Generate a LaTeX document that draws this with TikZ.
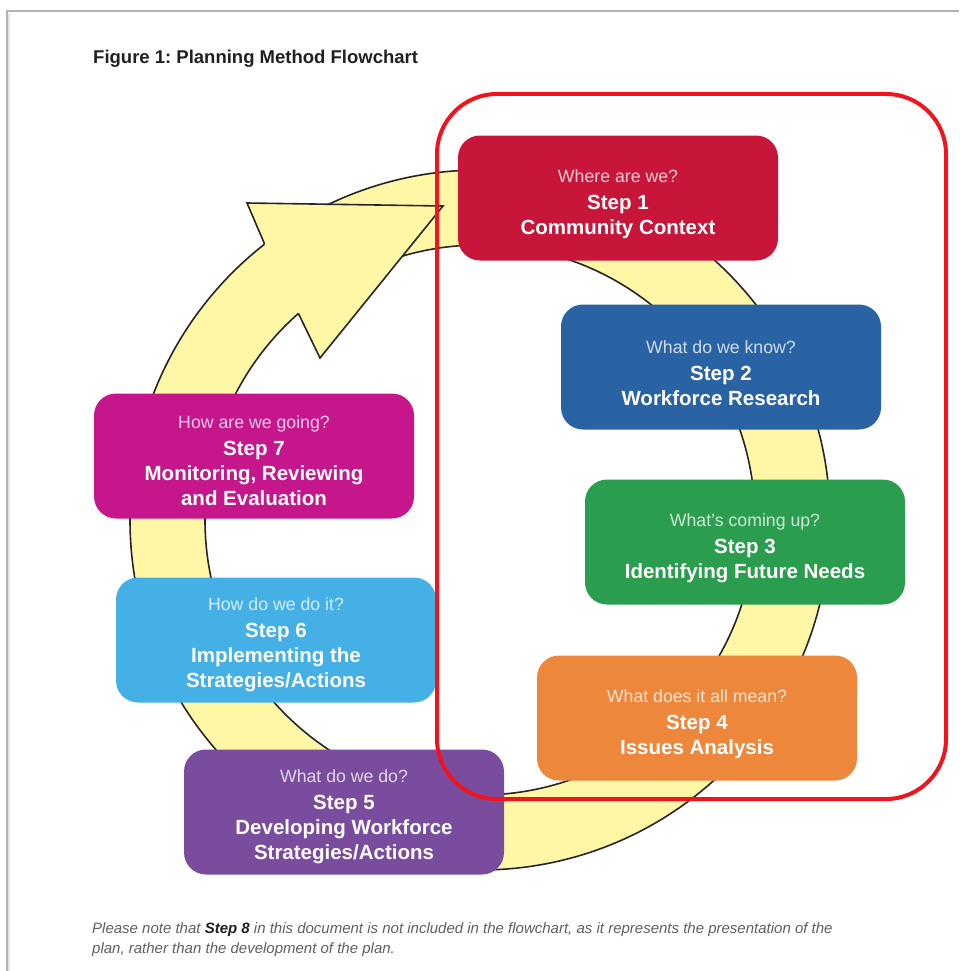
\documentclass[tikz,border=0pt]{standalone}
\usepackage{fontspec}
\setmainfont{Liberation Sans}
\frenchspacing
\definecolor{cOne}{RGB}{200,22,58}
\definecolor{cTwo}{RGB}{42,99,164}
\definecolor{cThree}{RGB}{42,158,78}
\definecolor{cFour}{RGB}{237,135,60}
\definecolor{cFive}{RGB}{122,76,158}
\definecolor{cSix}{RGB}{68,176,230}
\definecolor{cSeven}{RGB}{198,22,140}
\definecolor{ringyellow}{RGB}{255,246,166}
\definecolor{framered}{RGB}{240,20,30}
\definecolor{titlegray}{RGB}{35,31,32}
\definecolor{notegray}{RGB}{95,95,95}
\newcommand{\qtext}[2]{{\fontsize{17.7}{25}\selectfont\mdseries\color{white!78!#1}#2}}
\tikzset{
  stepbox/.style={rounded corners=22pt, minimum width=320pt, minimum height=125pt, inner sep=0pt},
  steptext/.style={align=center, text=white, inner sep=0pt,
    font=\fontsize{20.5}{25}\selectfont\bfseries},
  ringfill/.style={fill=ringyellow},
  ringline/.style={draw=black!85, line width=1.6pt},
  redframe/.style={draw=framered, line width=4pt, rounded corners=60pt},
}
\begin{document}
\begin{tikzpicture}[x=1pt,y=-1pt]
\useasboundingbox (0,0) rectangle (959,971);
\fill[white] (0,0) rectangle (959,971);
% page edge
\draw[black!30, line width=1.5pt] (7,971) -- (7,11) -- (959,11);
\draw[black!10, line width=1.5pt] (9,971) -- (9,13);
% title
\node[anchor=west, text=titlegray, font=\fontsize{18.5}{22}\selectfont\bfseries, inner sep=0pt] (title) at (93,59) {Figure 1: Planning Method Flowchart};
% ring
\coordinate (ctr) at (480,520);
\fill[ringfill, even odd rule] (ctr) circle[radius=350pt] (ctr) circle[radius=275pt];
\draw[ringline] (ctr) circle[radius=350pt];
\draw[ringline] (ctr) circle[radius=275pt];
% arrowhead
\coordinate (nOne) at (264.5,243.8);
\coordinate (bOne) at (247,203);
\coordinate (tip) at (443,206);
\coordinate (bTwo) at (320,358);
\coordinate (nTwo) at (298.4,313.5);
\fill[ringfill] (nOne) -- (bOne) -- (tip) -- (bTwo) -- (nTwo) -- cycle;
\draw[ringline, line join=miter] (nOne) -- (bOne) -- (tip) -- (bTwo) -- (nTwo);
% boxes
\node[stepbox, fill=cOne] (s1) at (618,198) {};
\node[steptext] (t1) at ([yshift=-6pt]s1.center) {\qtext{cOne}{Where are we?}\\[2pt]Step 1\\Community Context};
\node[stepbox, fill=cTwo] (s2) at (721,367) {};
\node[steptext] (t2) at ([yshift=-6pt]s2.center) {\qtext{cTwo}{What do we know?}\\[2pt]Step 2\\Workforce Research};
\node[stepbox, fill=cThree] (s3) at (745,542) {};
\node[steptext] (t3) at ([yshift=-6pt]s3.center) {\qtext{cThree}{What’s coming up?}\\[2pt]Step 3\\Identifying Future Needs};
\node[stepbox, fill=cFour] (s4) at (697,718) {};
\node[steptext] (t4) at ([yshift=-6pt]s4.center) {\qtext{cFour}{What does it all mean?}\\[2pt]Step 4\\Issues Analysis};
\node[stepbox, fill=cFive] (s5) at (344,812) {};
\node[steptext] (t5) at ([yshift=-5pt]s5.center) {\qtext{cFive}{What do we do?}\\[2pt]Step 5\\Developing Workforce\\Strategies/Actions};
\node[stepbox, fill=cSix] (s6) at (276,640) {};
\node[steptext] (t6) at ([yshift=-5pt]s6.center) {\qtext{cSix}{How do we do it?}\\[2pt]Step 6\\Implementing the\\Strategies/Actions};
\node[stepbox, fill=cSeven] (s7) at (254,456) {};
\node[steptext] (t7) at ([yshift=-5pt]s7.center) {\qtext{cSeven}{How are we going?}\\[2pt]Step 7\\Monitoring, Reviewing\\and Evaluation};
% red frame
\draw[redframe] (437,94) rectangle (946,799);
% note
\node[anchor=north west, align=left, inner sep=0pt, text=notegray, font=\fontsize{15}{20}\selectfont\itshape] (note) at (92,922)
  {Please note that {\bfseries\color{titlegray}Step 8} in this document is not included in the flowchart, as it represents the presentation of the\\plan, rather than the development of the plan.};
\end{tikzpicture}
\end{document}
